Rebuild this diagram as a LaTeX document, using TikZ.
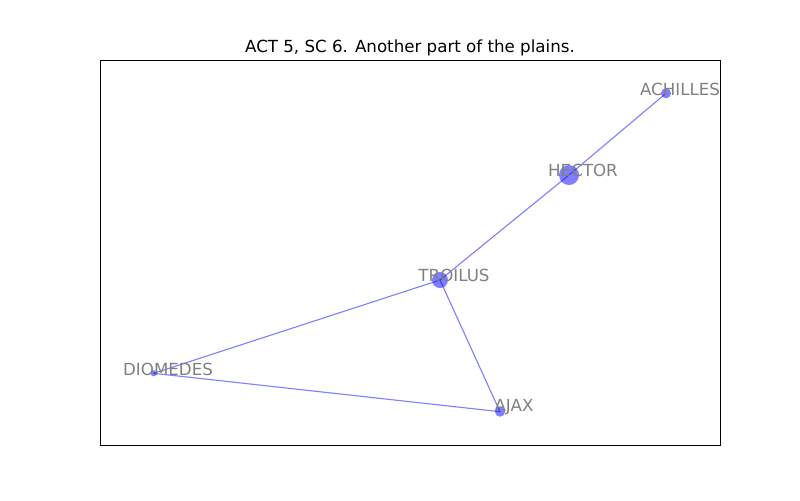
\documentclass[tikz,border=0pt]{standalone}
\usepackage{fontspec}
\setmainfont{DejaVu Sans}
\begin{document}
\begin{tikzpicture}[x=0.72pt,y=-0.72pt,
  vertex/.style={circle,fill=blue,fill opacity=0.5,draw=none,inner sep=0pt},
  edge/.style={draw=blue,draw opacity=0.5,line width=0.8pt},
  lbl/.style={text=black!50,inner sep=0pt,font=\fontsize{12}{14}\selectfont,anchor=center},
  frame/.style={draw=black,line width=0.8pt}]
\useasboundingbox (0,0) rectangle (800,500);
\node[frame,minimum width=620*0.72pt,minimum height=385*0.72pt,inner sep=0pt,anchor=north west] (box) at (100,60) {};
\node[anchor=base,inner sep=0pt,font=\fontsize{12}{14}\selectfont] (title) at (410,52.7) {ACT 5, SC 6. Another part of the plains.};
\node[vertex,minimum size=10*0.72pt] (achilles) at (666,93.3) {};
\node[vertex,minimum size=20*0.72pt] (hector) at (569,175) {};
\node[vertex,minimum size=16*0.72pt] (troilus) at (440,280) {};
\node[vertex,minimum size=6*0.72pt] (diomedes) at (153.7,373.3) {};
\node[vertex,minimum size=10*0.72pt] (ajax) at (500,411.7) {};
\draw[edge] (achilles.center) -- (hector.center);
\draw[edge] (hector.center) -- (troilus.center);
\draw[edge] (troilus.center) -- (diomedes.center);
\draw[edge] (troilus.center) -- (ajax.center);
\draw[edge] (diomedes.center) -- (ajax.center);
\node[lbl] (achilles-l) at (680,89) {ACHILLES};
\node[lbl] (hector-l) at (583,170.5) {HECTOR};
\node[lbl] (troilus-l) at (454,275.5) {TROILUS};
\node[lbl] (diomedes-l) at (168,369) {DIOMEDES};
\node[lbl] (ajax-l) at (514,407.5) {AJAX};
\end{tikzpicture}
\end{document}
